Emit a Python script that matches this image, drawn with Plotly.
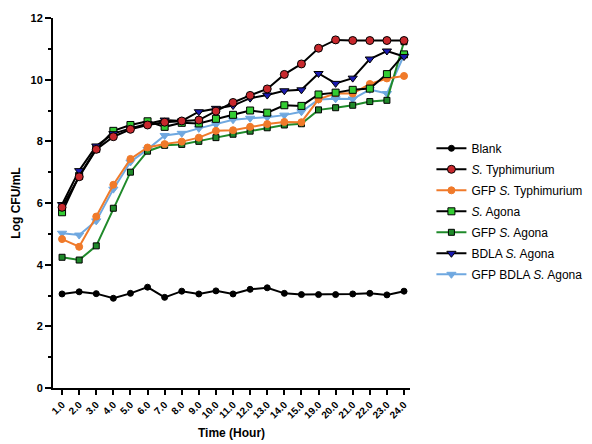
import plotly.graph_objects as go

time_labels = ["1.0", "2.0", "3.0", "4.0", "5.0", "6.0", "7.0", "8.0", "9.0", "10.0",
               "11.0", "12.0", "13.0", "14.0", "15.0", "19.0", "20.0", "21.0", "22.0", "23.0", "24.0"]

blank = [3.05, 3.12, 3.06, 2.91, 3.07, 3.27, 2.94, 3.14, 3.05, 3.15, 3.05, 3.20, 3.25, 3.07,
         3.03, 3.03, 3.03, 3.05, 3.07, 3.02, 3.14]
s_typhimurium = [5.86, 6.85, 7.74, 8.15, 8.39, 8.53, 8.62, 8.66, 8.69, 8.98, 9.26, 9.49, 9.70,
                 10.17, 10.51, 11.02, 11.29, 11.27, 11.27, 11.27, 11.27]
gfp_s_typhimurium = [4.83, 4.58, 5.56, 6.59, 7.43, 7.80, 7.91, 7.99, 8.12, 8.34, 8.36, 8.47, 8.56,
                     8.63, 8.62, 9.36, 9.56, 9.55, 9.86, 10.04, 10.12]
s_agona = [5.70, 6.88, 7.76, 8.34, 8.53, 8.65, 8.47, 8.60, 8.58, 8.73, 8.86, 9.00, 8.93, 9.17,
           9.15, 9.52, 9.58, 9.67, 9.71, 10.18, 10.82]
gfp_s_agona = [4.24, 4.15, 4.61, 5.83, 7.00, 7.68, 7.87, 7.90, 8.00, 8.12, 8.23, 8.33, 8.44, 8.53,
               8.57, 9.02, 9.09, 9.17, 9.29, 9.33, 11.23]
bdla_s_agona = [5.95, 7.05, 7.85, 8.25, 8.42, 8.57, 8.69, 8.66, 8.96, 9.07, 9.16, 9.40, 9.50, 9.64,
                9.67, 10.20, 9.88, 10.05, 10.67, 10.93, 10.75]
gfp_bdla_s_agona = [5.02, 4.96, 5.42, 6.45, 7.33, 7.74, 8.19, 8.26, 8.42, 8.55, 8.70, 8.75, 8.78,
                    8.85, 8.96, 9.36, 9.38, 9.37, 9.68, 9.55, 10.80]

y_ticks = [0, 2, 4, 6, 8, 10, 12]

FONT = "Liberation Sans, Arial, sans-serif"

series = [
    # name, data, line color, marker color, symbol, size, rank
    ("GFP BDLA <i>S.</i> Agona", gfp_bdla_s_agona, "#6fa8e0", "#6fa8e0", "triangle-down", 8, 7),
    ("GFP <i>S.</i> Agona", gfp_s_agona, "#1f8a2a", "#1f8a2a", "square", 6, 5),
    ("GFP <i>S.</i> Typhimurium", gfp_s_typhimurium, "#f07a2a", "#f07a2a", "circle", 7, 3),
    ("<i>S.</i> Agona", s_agona, "#000000", "#33cc33", "square", 7, 4),
    ("BDLA <i>S.</i> Agona", bdla_s_agona, "#000000", "#1a1ab0", "triangle-down", 8, 6),
    ("<i>S.</i> Typhimurium", s_typhimurium, "#000000", "#c8282d", "circle", 8, 2),
    ("Blank", blank, "#000000", "#000000", "circle", 6, 1),
]

fig = go.Figure()
for name, data, lc, mc, sym, size, rank in series:
    edge = "#000000" if lc == "#000000" or sym == "square" else mc
    fig.add_trace(go.Scatter(
        x=time_labels, y=data, name=name, mode="lines+markers",
        line=dict(color=lc, width=2),
        marker=dict(symbol=sym, size=size, color=mc, line=dict(color=edge, width=1)),
        legendrank=rank, legendgroup="g%d" % rank,
    ))

fig.update_layout(
    width=592, height=444,
    margin=dict(l=45, r=190, t=10, b=64),
    paper_bgcolor="white", plot_bgcolor="white",
    font=dict(family=FONT, color="black", size=11),
    showlegend=True,
    legend=dict(x=1.06, y=0.687, xanchor="left", yanchor="top",
                font=dict(family=FONT, size=12, color="black"),
                bgcolor="rgba(0,0,0,0)", tracegroupgap=2),
    xaxis=dict(
        type="category", range=[-0.53, 20.35], automargin=False,
        showline=True, linecolor="black", linewidth=2,
        ticks="outside", ticklen=5, tickwidth=2, tickcolor="black",
        tickangle=-45, showgrid=False, zeroline=False,
        tickfont=dict(family=FONT, size=10, color="black", weight="bold"),
        title=dict(text="<b>Time (Hour)</b>", font=dict(family=FONT, size=12), standoff=9),
    ),
    yaxis=dict(
        range=[0, 12], tickvals=y_ticks, automargin=False,
        showline=True, linecolor="black", linewidth=2,
        ticks="outside", ticklen=6, tickwidth=2, tickcolor="black",
        showgrid=False, zeroline=False,
        minor=dict(dtick=1, ticks="outside", ticklen=3, tickwidth=1.5, tickcolor="black"),
        tickfont=dict(family=FONT, size=11, color="black", weight="bold"),
        title=dict(text="<b>Log CFU/mL</b>", font=dict(family=FONT, size=12), standoff=7),
    ),
)

fig.write_html("out.html")
